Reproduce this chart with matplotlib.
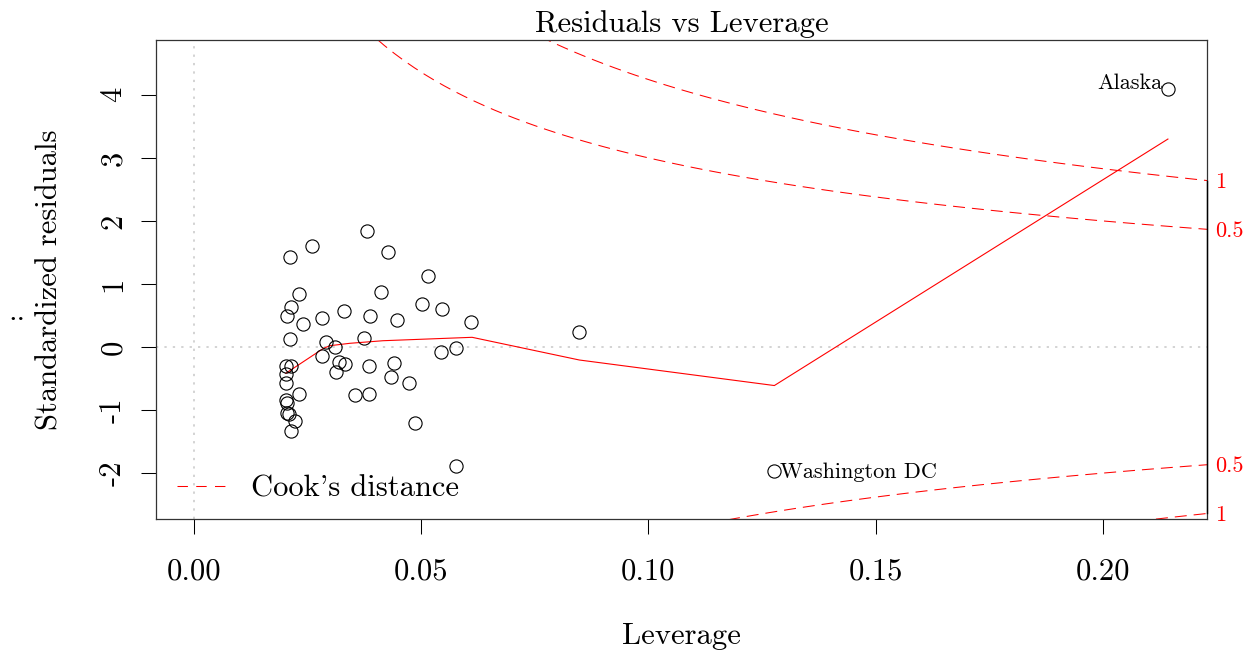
import numpy as np
import matplotlib
matplotlib.use("Agg")
import matplotlib.pyplot as plt
from matplotlib.lines import Line2D

plt.rcParams['font.family'] = ['cmr10', 'DejaVu Serif']
plt.rcParams['axes.unicode_minus'] = False

# leverage (hat values) and standardized residuals
leverage = [0.0380, 0.0259, 0.0211, 0.0426, 0.0516, 0.0230, 0.0214, 0.0204,
            0.0239, 0.0282, 0.0329, 0.0412, 0.0387, 0.0446, 0.0502, 0.0546,
            0.0610, 0.0211, 0.0291, 0.0310, 0.0375, 0.0544, 0.0577, 0.0202,
            0.0213, 0.0282, 0.0318, 0.0332, 0.0312, 0.0384, 0.0439, 0.0433,
            0.0472, 0.0202, 0.0202, 0.0230, 0.0354, 0.0384, 0.0202, 0.0204,
            0.0204, 0.0210, 0.0222, 0.0214, 0.0486, 0.0848, 0.0576, 0.1277,
            0.2143]
std_resid = [1.845, 1.607, 1.427, 1.502, 1.121, 0.841, 0.639, 0.487,
             0.360, 0.455, 0.576, 0.877, 0.496, 0.433, 0.687, 0.598,
             0.397, 0.127, 0.084, 0.005, 0.148, -0.084, -0.008, -0.301,
             -0.301, -0.143, -0.238, -0.274, -0.397, -0.301, -0.254, -0.476,
             -0.571, -0.428, -0.576, -0.750, -0.761, -0.745, -0.841, -0.883,
             -1.052, -1.067, -1.178, -1.337, -1.209, 0.243, -1.887, -1.962,
             4.092]

# labelled points: index -> name
point_names = {47: "Washington DC", 48: "Alaska"}

# red smoother, vertices
smooth_x = [0.0202, 0.0285, 0.0299, 0.0343, 0.0416, 0.0612, 0.0848, 0.1277, 0.2143]
smooth_y = [-0.417, -0.021, 0.021, 0.059, 0.100, 0.154, -0.206, -0.611, 3.299]

# Cook's distance contours
cook_levels = [0.5, 1]
n_params = 2

xticks = [0.00, 0.05, 0.10, 0.15, 0.20]
yticks = [-2, -1, 0, 1, 2, 3, 4]
xlim = (-0.00836, 0.2229)
ylim = (-2.72, 4.87)

W, H = 1254, 653
fig = plt.figure(figsize=(W / 100, H / 100), dpi=100)
ax = fig.add_axes([156 / W, 1 - 518.5 / H, (1207 - 156) / W, (518.5 - 40) / H])

FS = 22
FS_ID = 16

ax.set_xlim(*xlim)
ax.set_ylim(*ylim)

# grey reference lines
ax.axhline(0, color='#c8c8c8', lw=1.1, ls=(0, (1.5, 4)), zorder=1)
ax.axvline(0, color='#c8c8c8', lw=1.1, ls=(0, (1.5, 4)), zorder=1)

ax.plot(leverage, std_resid, 'o', ms=9.5, mfc='none', mec='black', mew=0.8, zorder=3)
ax.plot(smooth_x, smooth_y, color='red', lw=0.8, zorder=2)

dash = (0, (11.5, 6.7))
hh = np.linspace(leverage[-1] / 100, xlim[1], 101)
label_pos = []
for lev in cook_levels:
    cl = np.sqrt(lev * n_params * (1 - hh) / hh)
    ax.plot(hh, cl, color='red', lw=0.75, ls=dash, zorder=2)
    ax.plot(hh, -cl, color='red', lw=0.75, ls=dash, zorder=2)
    label_pos += [cl[-1], -cl[-1]]

for i, name in point_names.items():
    if leverage[i] > 0.15:
        ax.annotate(name, (leverage[i], std_resid[i]), xytext=(-4, 0),
                    textcoords='offset points', ha='right', va='baseline', fontsize=FS_ID)
    else:
        ax.annotate(name, (leverage[i], std_resid[i]), xytext=(4, -1),
                    textcoords='offset points', ha='left', va='center', fontsize=FS_ID)

# right axis with Cook's distance levels
ax2 = ax.twinx()
ax2.set_ylim(*ylim)
ax2.set_yticks(label_pos)
ax2.set_yticklabels([str(l) for l in cook_levels for _ in (0, 1)])
ax2.tick_params(axis='y', length=0, pad=6, labelsize=FS_ID, labelcolor='red')
for s in ['top', 'left', 'bottom']:
    ax2.spines[s].set_visible(False)
ax2.spines['right'].set_bounds(min(label_pos), max(label_pos))
ax2.spines['right'].set_linewidth(1.0)

ax.set_xticks(xticks)
ax.set_xticklabels(['%.2f' % v for v in xticks])
ax.set_yticks(yticks)
ax.set_yticklabels([str(v) for v in yticks], rotation=90, va='center')
ax.tick_params(direction='out', length=10.8, width=0.75, labelsize=FS)
ax.tick_params(axis='x', pad=18)
ax.tick_params(axis='y', pad=10)
for s in ax.spines.values():
    s.set_linewidth(0.9)
    s.set_color('#333333')

ax.set_title("Residuals vs Leverage", fontsize=FS, pad=6)
ax.set_xlabel("Leverage", fontsize=FS, va='center')
ax.xaxis.set_label_coords(0.5, -0.2456)
ax.set_ylabel("Standardized residuals", fontsize=FS, va='center')
ax.yaxis.set_label_coords(-0.1009, 0.5)
fig.text(16.5 / W, 1 - 320 / H, "..", fontsize=FS, ha='center', va='baseline')

leg = ax.legend([Line2D([], [], color='red', lw=0.75, ls=(0, (10, 8)))], ["Cook's distance"],
                loc='lower left', bbox_to_anchor=(0.0, -0.012), frameon=False,
                fontsize=FS, handlelength=1.6, handletextpad=0.82, borderaxespad=0.3)

fig.savefig("out.png", dpi=100)
